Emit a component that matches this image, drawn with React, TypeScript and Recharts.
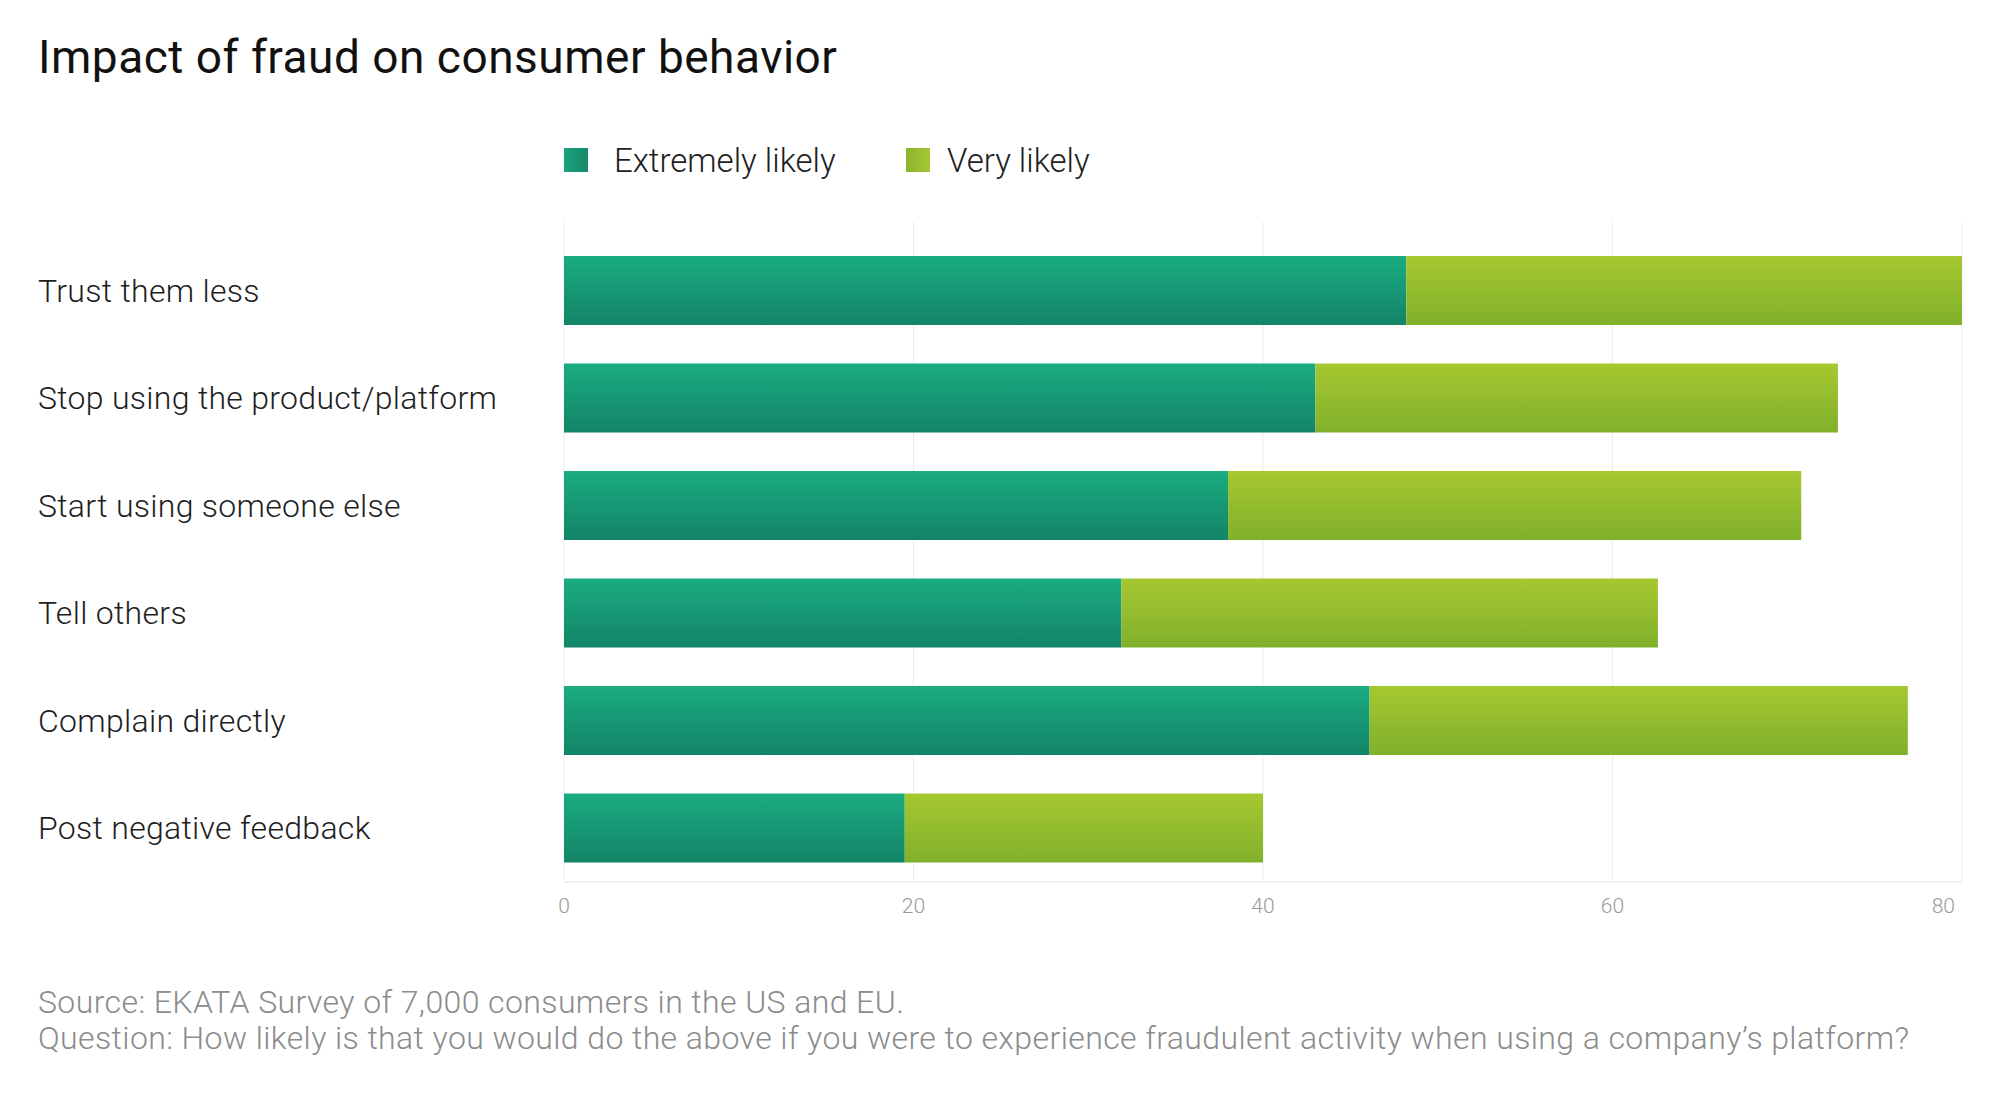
import { BarChart, Bar, XAxis, YAxis, CartesianGrid } from "recharts";

// categories, top to bottom
const categories = [
  "Trust them less",
  "Stop using the product/platform",
  "Start using someone else",
  "Tell others",
  "Complain directly",
  "Post negative feedback",
];

// percent of respondents
const extremelyLikely = [48.2, 43.0, 38.0, 31.9, 46.1, 19.5];
const veryLikely = [31.8, 29.9, 32.8, 30.7, 30.8, 20.5];

const xTicks = [0, 20, 40, 60, 80];

const seriesNames = ["Extremely likely", "Very likely"];

const FONT = "Roboto, 'Noto Sans', sans-serif";

const data = categories.map((name, i) => ({
  name,
  extremely: extremelyLikely[i],
  very: veryLikely[i],
}));

const CategoryTick = (props: any) => {
  const { y, payload } = props;
  return (
    <text
      x={38}
      y={y}
      dy={11}
      textAnchor="start"
      fontSize={32}
      fontWeight={300}
      letterSpacing={0.3}
      fill="#1e1e1e"
      fontFamily={FONT}
    >
      {payload.value}
    </text>
  );
};

const ValueTick = (props: any) => {
  const { x, y, payload, index } = props;
  const last = index === xTicks.length - 1;
  return (
    <text
      x={last ? x - 7 : x}
      y={y}
      dy={23}
      textAnchor={last ? "end" : "middle"}
      fontSize={21}
      fontWeight={300}
      fill="#9a9a9a"
      fontFamily={FONT}
    >
      {payload.value}
    </text>
  );
};

export default function App() {
  return (
    <div
      style={{
        position: "fixed",
        left: 0,
        top: 0,
        width: 2000,
        height: 1107,
        background: "#fff",
        fontFamily: FONT,
        overflow: "hidden",
      }}
    >
      <div
        style={{
          position: "absolute",
          left: 38,
          top: 34,
          fontSize: 46,
          lineHeight: 1,
          fontWeight: 400,
          letterSpacing: 0.5,
          color: "#111",
          whiteSpace: "nowrap",
        }}
      >
        Impact of fraud on consumer behavior
      </div>

      {/* legend */}
      <div style={{ position: "absolute", left: 564, top: 143, display: "flex", height: 34 }}>
        {seriesNames.map((s, i) => (
          <div key={s} style={{ width: 342, display: "flex", alignItems: "center" }}>
            <div
              style={{
                width: 24,
                height: 24,
                marginRight: i === 0 ? 26 : 17,
                background:
                  i === 0
                    ? "linear-gradient(to right, #1aa27b, #168a6c)"
                    : "linear-gradient(to right, #8ab42c, #a6c731)",
              }}
            />
            <div style={{ fontSize: 33, lineHeight: 1, fontWeight: 300, color: "#1e1e1e", whiteSpace: "nowrap" }}>{s}</div>
          </div>
        ))}
      </div>

      <div style={{ position: "absolute", left: 0, top: 0 }}>
        <BarChart
          width={2000}
          height={930}
          data={data}
          layout="vertical"
          margin={{ top: 222, right: 38, left: 0, bottom: 0 }}
        >
          <defs>
            <linearGradient id="gExtreme" x1="0" y1="0" x2="0" y2="1">
              <stop offset="0%" stopColor="#1aac81" />
              <stop offset="100%" stopColor="#138467" />
            </linearGradient>
            <linearGradient id="gVery" x1="0" y1="0" x2="0" y2="1">
              <stop offset="0%" stopColor="#a6c830" />
              <stop offset="100%" stopColor="#80b02b" />
            </linearGradient>
          </defs>
          <CartesianGrid horizontal={false} vertical stroke="#ececec" />
          <XAxis
            type="number"
            domain={[0, 80]}
            ticks={xTicks}
            axisLine={{ stroke: "#e2e2e2" }}
            tickLine={false}
            tick={<ValueTick />}
            height={48}
          />
          <YAxis
            type="category"
            dataKey="name"
            width={564}
            axisLine={false}
            tickLine={false}
            tick={<CategoryTick />}
            padding={{ top: 15, bottom: 0 }}
          />
          <Bar dataKey="extremely" stackId="a" fill="url(#gExtreme)" barSize={69} isAnimationActive={false} />
          <Bar dataKey="very" stackId="a" fill="url(#gVery)" barSize={69} isAnimationActive={false} />
        </BarChart>
      </div>

      <div
        style={{
          position: "absolute",
          left: 38,
          top: 984,
          fontSize: 32,
          lineHeight: "36px",
          fontWeight: 300,
          letterSpacing: 0.4,
          color: "#8c8c8c",
          whiteSpace: "nowrap",
        }}
      >
        <div>Source: EKATA Survey of 7,000 consumers in the US and EU.</div>
        <div>
          Question: How likely is that you would do the above if you were to experience fraudulent activity when using a
          company’s platform?
        </div>
      </div>
    </div>
  );
}
